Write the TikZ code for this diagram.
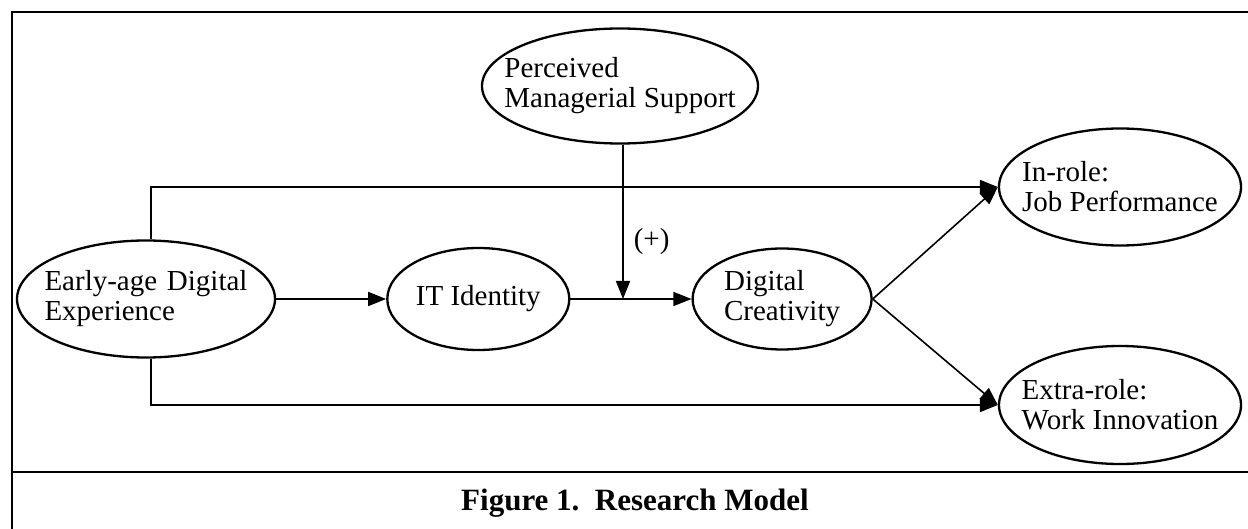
\documentclass[tikz,border=0pt]{standalone}
\usepackage{fontspec}
\setmainfont{Liberation Serif}
\usetikzlibrary{positioning,arrows.meta,shapes.geometric}

\begin{document}
\begin{tikzpicture}[
  x=1pt, y=-1pt, font=\fontsize{29}{30}\selectfont,
  >={Triangle[length=18pt, width=14pt]},
  oval/.style={draw, ellipse, line width=2.3pt, inner sep=0pt},
  txt/.style={align=left, inner sep=0pt},
  link/.style={->, line width=1.6pt},
  frame/.style={line width=2.2pt}]

\useasboundingbox (0,0) rectangle (1248,529);
\draw[frame] (12,529) -- (12,12) -- (1248,12);
\draw[frame] (12,472) -- (1248,472);

\node (early) [oval, minimum width=258pt, minimum height=117pt] at (146,299) {};
\node (earlytx) [txt, text width=203pt] at (early.center) {Early-age\hfill Digital\\Experience};
\node (it) [oval, minimum width=182pt, minimum height=102pt, right=110pt of early] {};
\node (ittx) [txt] at (it.center) {IT Identity};
\node (dc) [oval, minimum width=179pt, minimum height=101pt, right=121pt of it] {};
\node (dctx) [txt] at (dc.center) {Digital\\Creativity};
\node (pms) [oval, minimum width=276pt, minimum height=115pt] at (620,86) {};
\node (pmstx) [txt] at (pms.center) {Perceived\\Managerial Support};
\node (inrole) [oval, minimum width=242pt, minimum height=117pt] at (1120,187) {};
\node (inroletx) [txt] at (inrole.center) {In-role:\\Job Performance};
\node (extra) [oval, minimum width=242pt, minimum height=118pt] at (1120,405) {};
\node (extratx) [txt] at (extra.center) {Extra-role:\\Work Innovation};

\node (cap) at (635,503) {\fontsize{31}{33}\selectfont\bfseries Figure 1.\ \ Research Model};

\draw[link] (early) -- (it);
\draw[link] (it) -- (dc);
\draw[link] ([xshift=5pt]early.north) |- (inrole.west);
\draw[link] ([xshift=5pt]early.south) |- (extra.west);
\draw[link] (dc.east) -- (inrole.west);
\draw[link] (dc.east) -- (extra.west);
\draw[link] ([xshift=3pt]pms.south) -- ([xshift=3pt]pms.south |- it.east)
  node (sign) [pos=0.63, right=10pt, inner sep=0pt] {(+)};
\end{tikzpicture}
\end{document}
